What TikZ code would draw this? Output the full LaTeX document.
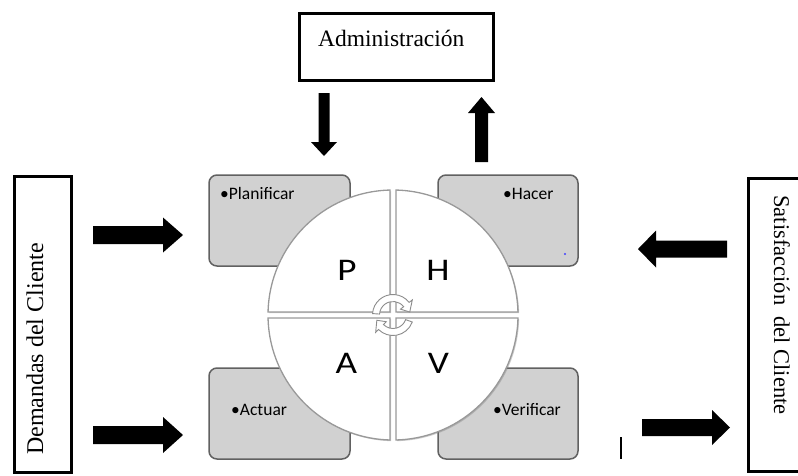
\documentclass[tikz,border=0pt]{standalone}
\usepackage{fontspec}
\setmainfont{Liberation Serif}
\newfontfamily\calib{Carlito}
\newfontfamily\calibwide[FakeStretch=1.18]{Carlito}
\usetikzlibrary{shadows}
\tikzset{
  framebox/.style={draw=black, line width=3pt, fill=white, inner sep=0pt},
  graybox/.style={draw=black!62, line width=1.5pt, fill=black!18, rounded corners=8pt, inner sep=0pt},
  quarter/.style={fill=white, draw=black!40, line width=1.3pt,
    drop shadow={shadow xshift=1.2pt, shadow yshift=-1.2pt, opacity=0.4}},
  cyc/.style={fill=white, draw=black!45, line width=0.9pt},
  blk/.style={fill=black},
  boxlabel/.style={font=\calib\fontsize{17.5}{20}\selectfont, inner sep=0pt, anchor=base west},
  bigletter/.style={font=\calibwide\fontsize{31.5}{36}\selectfont, inner sep=0pt},
  serif/.style={inner sep=0pt}
}
\newcommand\blkarrow[7]{\fill[blk,shift={(#1,#2)},rotate=#3] (0,-#5) -- ({#4-#7},-#5) -- ({#4-#7},-#6) -- (#4,0) -- ({#4-#7},#6) -- ({#4-#7},#5) -- (0,#5) -- cycle;}
\begin{document}
\begin{tikzpicture}[x=1pt,y=1pt]
\useasboundingbox (0,0) rectangle (798,-475);
% outer boxes
\node[framebox, minimum width=194pt, minimum height=67pt] (admin) at (396.5,-47) {};
\node[serif, anchor=base west, font=\fontsize{23.5}{26}\selectfont] (admintext) at (318,-46) {Administración};
\node[framebox, minimum width=57pt, minimum height=296pt] (demandas) at (43,-324.5) {};
\node[serif, anchor=base, rotate=90, font=\fontsize{24}{27}\selectfont] (demtext) at (43,-349) {Demandas del Cliente};
\node[framebox, minimum width=80pt, minimum height=293pt] (satisf) at (788.5,-325) {};
\node[serif, anchor=base, rotate=-90, font=\fontsize{22.5}{26}\selectfont] (sattext) at (774,-305) {Satisfacción~ del Cliente};
% block arrows
\blkarrow{93}{-235}{0}{90}{9}{17.5}{20}
\blkarrow{93}{-435}{0}{90}{9}{18}{20}
\blkarrow{727}{-249}{180}{89}{8.5}{18.5}{18}
\blkarrow{642}{-427.5}{0}{88}{8.5}{17.5}{18}
\blkarrow{324}{-93}{-90}{63}{5.5}{13}{14}
\blkarrow{481.5}{-162}{90}{65}{6.5}{13.5}{16}
% gray boxes
\node[graybox, minimum width=141pt, minimum height=91pt] (plan) at (279.5,-220.5) {};
\node[graybox, minimum width=140pt, minimum height=91pt] (hacer) at (508,-220.5) {};
\node[graybox, minimum width=141pt, minimum height=91pt] (actuar) at (279.5,-413.5) {};
\node[graybox, minimum width=140pt, minimum height=91pt] (verif) at (508,-413.5) {};
\node[boxlabel] (plantext) at (220,-199) {•Planificar};
\node[boxlabel] (hacertext) at (503,-199) {•Hacer};
\node[boxlabel] (actuartext) at (231,-415) {•Actuar};
\node[boxlabel] (veriftext) at (493,-415) {•Verificar};
\fill[blue!75] (565,-254) circle (1.2);
\draw[line width=1.5pt] (621,-437) -- (621,-459);
% circle quarters
\begin{scope}[shift={(393,-315)}]
  \path[quarter] (-3,3) -- (91.375:125) arc[start angle=91.375, end angle=178.625, radius=125] -- cycle;
  \path[quarter] (3,3) -- (88.625:125) arc[start angle=88.625, end angle=1.375, radius=125] -- cycle;
  \path[quarter] (3,-3) -- (-1.375:125) arc[start angle=-1.375, end angle=-88.625, radius=125] -- cycle;
  \path[quarter] (-3,-3) -- (-91.375:125) arc[start angle=-91.375, end angle=-178.625, radius=125] -- cycle;
  % cycle arrows
  \path[cyc] (176:20.5) arc[start angle=176, end angle=38, radius=20.5] -- (38:24.5) -- (10:17) -- (38:9.5) -- (38:13.5) arc[start angle=38, end angle=176, radius=13.5] -- cycle;
  \path[cyc] (-20:20.5) arc[start angle=-20, end angle=-135, radius=20.5] -- (-135:24.5) -- (-162:17) -- (-135:9.5) -- (-135:13.5) arc[start angle=-135, end angle=-20, radius=13.5] -- cycle;
\end{scope}
\node[bigletter] (P) at (347,-270) {P};
\node[bigletter] (H) at (438,-270) {H};
\node[bigletter] (A) at (346.5,-363) {A};
\node[bigletter] (V) at (438.5,-363) {V};
\end{tikzpicture}
\end{document}
